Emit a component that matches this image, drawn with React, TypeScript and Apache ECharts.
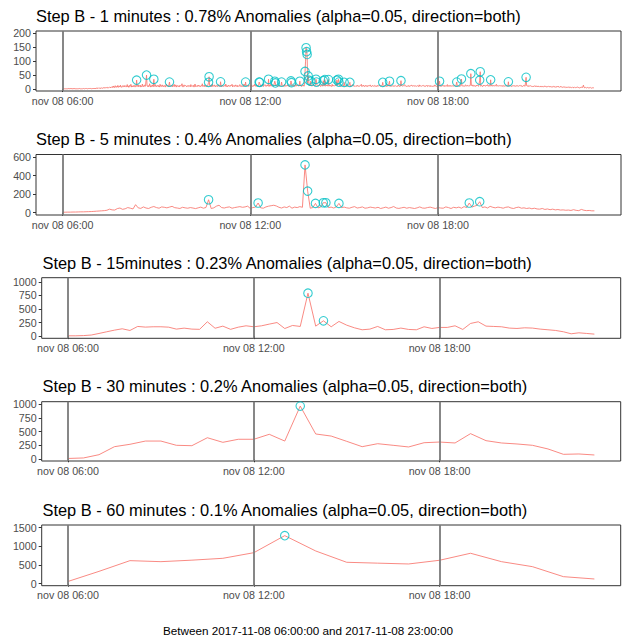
import React, { useEffect, useRef } from "react";
import * as echarts from "echarts";

// ---------- DATA ----------
// Minutes since midnight, 2017-11-08
const START_MIN = 360; // 06:00
const AXIS_MIN = 309; // 05:09
const AXIS_MAX = 1431; // 23:51
const X_TICKS = [360, 720, 1080];

// 1-minute step, one row per hour (06 .. 23)
const min1Hour06 = [1,1,2,1,1,2,1,1,1,2, 1,1,2,1,1,1,2,1,1,2, 1,1,2,2,1,1,1,2,1,2, 1,1,2,1,1,2,1,2,1,1, 2,1,1,2,2,1,2,1,1,2, 2,1,2,1,2,2,1,2,2,2];
const min1Hour07 = [2,3,2,3,2,3,4,3,2,4, 3,3,4,2,5,3,4,3,5,4, 3,6,4,3,5,4,6,3,5,4, 7,5,4,6,8,5,9,6,11,7, 5,12,8,6,10,7,13,6,9,11, 7,14,8,6,10,12,7,9,13,8];
const min1Hour08 = [9,12,7,10,16,8,11,6,13,9, 10,17,7,12,8,11,9,14,10,7, 12,10,13,9,11,15,8,12,10,14, 7,11,9,18,10,8,12,15,9,11, 11,16,12,9,13,8,10,19,11,7, 12,9,15,10,8,13,11,9,16,10];
const min1Hour09 = [8,12,10,14,9,11,7,17,10,12, 9,15,11,8,12,10,13,7,11,18, 10,9,12,8,16,13,10,12,9,11, 14,8,12,10,17,9,11,15,7,12, 10,13,9,11,8,14,12,10,9,19, 11,7,12,15,10,9,13,11,8,12];
const min1Hour10 = [11,9,13,10,12,8,16,11,9,12, 10,13,7,11,18,9,12,10,8,13, 11,14,9,12,10,8,13,11,19,9, 12,10,14,8,11,13,9,12,10,11, 13,9,12,10,14,8,11,17,9,12, 10,15,11,8,12,10,13,9,11,16];
const min1Hour11 = [10,12,9,13,11,8,14,10,12,9, 11,13,10,18,9,12,8,11,14,10, 12,9,13,11,10,17,8,12,10,13, 9,11,15,10,12,8,13,11,9,12, 16,10,11,9,13,12,8,11,18,10, 12,9,11,13,10,12,15,9,11,13];
const min1Hour12 = [12,10,14,11,9,13,12,10,17,11, 13,9,12,14,10,11,13,12,9,15, 11,13,10,12,18,9,12,11,16,10, 13,12,10,14,11,12,9,13,11,17, 10,12,14,11,9,13,12,10,16,11, 12,15,10,13,11,9,14,12,10,13];
const min1Hour13 = [11,14,10,12,13,9,17,11,12,10, 13,11,14,10,12,9,13,16,11,12, 10,14,12,11,13,9,12,18,10,13, 11,12,15,10,13,12,11,14,9,13, 12,11,14,10,16,20,100,118,96,40, 22,18,14,12,15,11,13,12,10,14];
const min1Hour14 = [12,14,11,13,10,15,12,11,14,12, 10,13,11,17,12,9,13,11,14,10, 12,13,11,14,10,12,15,11,13,10, 12,11,14,10,13,12,9,17,11,12, 13,10,12,14,11,13,10,12,11,16, 10,12,13,11,9,14,12,10,13,11];
const min1Hour15 = [11,13,10,12,9,14,11,12,10,13, 12,11,9,13,10,12,16,11,10,12, 13,9,11,12,10,14,11,9,12,13, 10,12,11,17,9,12,10,14,11,12, 9,13,10,11,12,9,13,11,10,12, 15,10,11,9,13,12,10,11,13,9];
const min1Hour16 = [10,12,11,9,13,10,12,11,14,10, 9,12,11,13,10,12,9,11,13,10, 12,11,9,16,10,12,11,13,9,11, 12,10,13,11,9,12,10,11,13,12, 9,11,12,10,15,11,9,12,10,12, 11,13,10,9,12,11,16,10,12,11];
const min1Hour17 = [9,11,12,10,13,9,11,10,12,11, 14,10,9,12,11,10,13,12,9,11, 10,12,11,9,15,10,11,12,10,9, 12,11,13,10,9,11,12,10,11,14, 9,10,12,11,10,13,9,11,12,10, 11,9,12,10,15,11,10,9,12,11];
const min1Hour18 = [10,12,11,13,9,11,12,10,14,11, 10,12,9,13,11,12,10,11,16,9, 12,11,10,14,12,9,11,13,10,12, 11,10,13,12,9,17,11,10,12,13, 11,9,12,10,14,11,12,10,13,11, 9,12,11,15,10,12,11,13,10,12];
const min1Hour19 = [12,11,14,10,13,12,11,15,10,12, 13,11,12,10,14,11,13,12,10,11, 14,12,10,13,11,12,9,14,11,13, 12,10,13,11,12,16,10,11,13,12, 10,13,11,12,14,10,12,11,13,10, 12,11,17,10,12,13,11,10,12,11];
const min1Hour20 = [11,13,10,12,11,9,13,12,10,11, 12,10,13,11,9,12,11,13,10,12, 11,9,12,10,13,11,10,12,9,11, 13,10,12,11,10,9,12,11,13,10, 11,12,9,11,10,13,12,10,11,9, 12,10,11,13,9,11,10,12,11,10];
const min1Hour21 = [10,9,11,8,10,12,9,8,11,10, 9,8,10,11,9,7,10,9,8,11, 9,10,8,9,11,8,10,9,7,10, 8,9,10,8,7,9,10,8,9,7, 8,10,7,9,8,6,9,8,7,10, 8,7,9,6,8,7,9,8,6,7];
const min1Hour22 = [7,6,8,7,5,8,6,7,6,5, 7,6,5,8,6,7,5,6,7,5, 6,5,7,6,5,4,6,5,7,6, 5,6,4,5,6,5,7,5,4,14, 6,5,4,6,5,4,5,6,4,5, 4,5,6,4,5,3,4,5,4,4];
const min1Hour23 = [4];

const min1AnomalyTimes = ["08:22","08:41","08:55","09:25","10:40","10:41","11:03","11:51","12:17","12:18","12:35","12:47","12:48","13:00","13:18","13:19","13:35","13:45","13:47","13:48","13:49","13:51","13:52","13:56","14:06","14:07","14:20","14:23","14:30","14:46","14:49","14:50","15:00","15:11","16:14","16:27","16:49","18:03","18:36","18:45","19:03","19:20","19:21","19:41","20:15","20:49"];
const min1AnomalyValues = [32,50,35,25,24,44,26,25,25,24,35,28,22,25,29,23,28,63,148,134,124,47,32,28,35,25,30,34,34,32,35,25,24,24,24,28,30,28,25,36,55,32,62,33,26,42];

// 5-minute step, 06:00 .. 23:00
const min5Values = [
  5,5,6,6,7,7,8,9,9,10,11,12,
  14,16,18,20,22,26,38,30,28,44,50,36,
  42,55,48,40,86,52,46,62,50,45,58,66,
  55,48,62,58,52,60,68,54,50,45,58,52,
  48,55,50,44,52,60,48,56,139,45,52,70,
  80,55,50,58,62,48,55,60,65,58,62,70,
  45,55,60,104,52,48,62,70,75,80,72,58,
  50,62,55,70,48,60,55,65,58,514,232,48,
  55,100,52,60,107,107,55,60,50,62,100,55,
  60,52,48,58,65,50,55,62,48,52,60,55,
  50,58,45,52,60,48,55,66,50,46,52,58,
  48,55,50,45,52,62,50,48,55,60,52,45,
  55,50,48,62,55,45,58,52,60,48,65,55,
  104,60,70,80,118,55,62,50,68,58,52,60,
  55,48,58,62,50,45,55,60,48,52,45,50,
  42,48,40,38,45,35,40,32,38,30,34,28,
  30,26,28,24,32,25,22,35,26,22,24,20,
  20,
];
const min5AnomalyTimes = ["10:40","12:15","13:45","13:50","14:05","14:20","14:25","14:50","19:00","19:20"];

// 15-minute step, 06:00 .. 23:00
const min15Values = [6,6,10,20,49,80,110,135,104,178,166,172,172,165,129,147,129,125,264,145,184,125,165,190,172,190,221,250,140,196,178,790,184,282,172,270,202,153,117,129,178,117,123,148,123,117,172,141,160,160,190,123,233,264,184,178,172,148,141,153,148,129,117,104,80,43,61,49,37];
const min15AnomalyTimes = ["13:45","14:15"];

// 30-minute step, 06:00 .. 23:00
const min30Values = [15,24,83,228,271,330,330,253,246,390,307,362,362,452,330,963,458,420,325,228,282,253,223,300,312,295,464,337,295,277,253,187,90,96,78];
const min30AnomalyTimes = ["13:30"];

// 60-minute step, 06:00 .. 23:00
const min60Values = [60,330,617,590,630,680,830,1287,876,573,550,528,627,815,590,456,188,126];
const min60AnomalyTimes = ["13:00"];

const titles = [
  "Step B - 1 minutes : 0.78% Anomalies (alpha=0.05, direction=both)",
  "Step B - 5 minutes : 0.4% Anomalies (alpha=0.05, direction=both)",
  "Step B - 15minutes : 0.23% Anomalies (alpha=0.05, direction=both)",
  "Step B - 30 minutes : 0.2% Anomalies (alpha=0.05, direction=both)",
  "Step B - 60 minutes : 0.1% Anomalies (alpha=0.05, direction=both)",
];
const yTicks1 = [0, 50, 100, 150, 200];
const yTicks5 = [0, 200, 400, 600];
const yTicks15 = [0, 250, 500, 750, 1000];
const yTicks30 = [0, 250, 500, 750, 1000];
const yTicks60 = [0, 500, 1000, 1500];
const caption = "Between 2017-11-08 06:00:00 and 2017-11-08 23:00:00";

// ---------- HELPERS ----------
const toMin = (t: string) => {
  const [h, m] = t.split(":").map(Number);
  return h * 60 + m;
};
const pad = (n: number) => (n < 10 ? "0" + n : "" + n);
const fmtTime = (v: number) => `nov 08 ${pad(Math.floor(v / 60))}:${pad(Math.round(v % 60))}`;

function build1Min(): number[][] {
  const hours = [min1Hour06, min1Hour07, min1Hour08, min1Hour09, min1Hour10, min1Hour11, min1Hour12, min1Hour13, min1Hour14, min1Hour15, min1Hour16, min1Hour17, min1Hour18, min1Hour19, min1Hour20, min1Hour21, min1Hour22, min1Hour23];
  const pts: number[][] = [];
  hours.forEach((row, h) => {
    row.slice(0, 60).forEach((v, m) => pts.push([START_MIN + h * 60 + m, v]));
  });
  min1AnomalyTimes.forEach((t, i) => {
    const x = toMin(t);
    const p = pts.find((q) => q[0] === x);
    if (p) p[1] = min1AnomalyValues[i];
  });
  return pts;
}
const buildStep = (vals: number[], step: number) => vals.map((v, i) => [START_MIN + i * step, v]);
const pickAnoms = (pts: number[][], times: string[]) =>
  times.map((t) => pts.find((p) => p[0] === toMin(t))).filter(Boolean) as number[][];

const FONT = "'Liberation Sans', Arial, Helvetica, sans-serif";

export default function App() {
  const ref = useRef<HTMLDivElement>(null);
  useEffect(() => {
    if (!ref.current) return;
    const chart = echarts.init(ref.current, undefined, { renderer: "svg" });

    const d1 = build1Min();
    const d5 = buildStep(min5Values, 5);
    const d15 = buildStep(min15Values, 15);
    const d30 = buildStep(min30Values, 30);
    const d60 = buildStep(min60Values, 60);

    const panels = [
      { data: d1, anoms: pickAnoms(d1, min1AnomalyTimes), ticks: yTicks1, yMin: -7, yMax: 208, lw: 1 },
      { data: d5, anoms: pickAnoms(d5, min5AnomalyTimes), ticks: yTicks5, yMin: -25, yMax: 626, lw: 1 },
      { data: d15, anoms: pickAnoms(d15, min15AnomalyTimes), ticks: yTicks15, yMin: -40, yMax: 1075, lw: 1 },
      { data: d30, anoms: pickAnoms(d30, min30AnomalyTimes), ticks: yTicks30, yMin: -31, yMax: 1042, lw: 1 },
      { data: d60, anoms: pickAnoms(d60, min60AnomalyTimes), ticks: yTicks60, yMin: -54, yMax: 1572, lw: 1 },
    ];
    // layout (pixels)
    const layout = [
      { left: 36, top: 31, width: 585, height: 60, titleX: 36, titleY: 15.5 },
      { left: 36, top: 154.5, width: 585, height: 60.5, titleX: 36, titleY: 138.7 },
      { left: 41.7, top: 277.7, width: 579, height: 60.6, titleX: 42.5, titleY: 262.8 },
      { left: 41.7, top: 401.7, width: 579, height: 59.3, titleX: 42.5, titleY: 385.5 },
      { left: 41.7, top: 525, width: 579, height: 60.7, titleX: 42.5, titleY: 509.5 },
    ];

    const grid = layout.map((l) => ({
      left: l.left, top: l.top, width: l.width, height: l.height,
      show: true, borderColor: "#333333", borderWidth: 1, backgroundColor: "transparent",
    }));
    const xAxis = layout.map((_, i) => ({
      type: "value", gridIndex: i, min: AXIS_MIN, max: AXIS_MAX,
      axisLine: { show: false },
      splitLine: { show: false },
      axisTick: { show: true, customValues: X_TICKS, length: 3, lineStyle: { color: "#333333", width: 1 } },
      axisLabel: {
        customValues: X_TICKS, formatter: (v: number) => fmtTime(v),
        color: "#4d4d4d", fontSize: 10.7, fontFamily: FONT, margin: 4,
      },
    }));
    const yAxis = panels.map((p, i) => ({
      type: "value", gridIndex: i, min: p.yMin, max: p.yMax,
      axisLine: { show: false },
      splitLine: { show: false },
      axisTick: { show: true, customValues: p.ticks, length: 3, lineStyle: { color: "#333333", width: 1 } },
      axisLabel: {
        customValues: p.ticks, formatter: (v: number) => String(Math.round(v)),
        color: "#4d4d4d", fontSize: 10.7, fontFamily: FONT, margin: 5,
      },
    }));
    const series: any[] = [];
    panels.forEach((p, i) => {
      series.push({
        type: "line", xAxisIndex: i, yAxisIndex: i, data: p.data,
        showSymbol: false, symbol: "none", silent: true,
        lineStyle: { color: "#F8766D", width: p.lw, opacity: 0.85 },
        z: 2,
        markLine: {
          silent: true, symbol: ["none", "none"], label: { show: false },
          lineStyle: { color: "#7a7a7a", width: 1.8, type: "solid", opacity: 1 },
          emphasis: { disabled: true },
          data: X_TICKS.map((x) => ({ xAxis: x })),
        },
      });
      series.push({
        type: "scatter", xAxisIndex: i, yAxisIndex: i, data: p.anoms,
        symbol: "circle", symbolSize: 8.5, silent: true, z: 3,
        itemStyle: { color: "rgba(0,0,0,0)", borderColor: "#00BFC4", borderWidth: 1.1 },
      });
    });
    const graphic: any[] = layout.map((l, i) => ({
      type: "text", x: l.titleX, y: l.titleY, silent: true,
      style: { text: titles[i], fontSize: 16.4, fontFamily: FONT, fill: "#000000", align: "left", verticalAlign: "middle" },
    }));
    graphic.push({
      type: "text", x: 308, y: 630, silent: true,
      style: { text: caption, fontSize: 11.7, fontFamily: FONT, fill: "#000000", align: "center", verticalAlign: "middle" },
    });

    chart.setOption({
      animation: false,
      backgroundColor: "#ffffff",
      grid, xAxis, yAxis, series, graphic,
    });
    return () => chart.dispose();
  }, []);
  return <div ref={ref} style={{ position: "fixed", left: 0, top: 0, width: 628, height: 639, background: "#fff" }} />;
}
